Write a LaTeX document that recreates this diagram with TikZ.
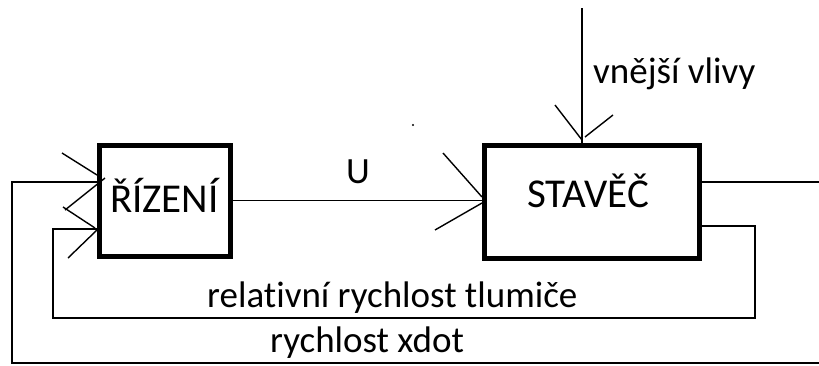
\documentclass[tikz,border=0pt]{standalone}
\usepackage{fontspec}
\setmainfont{Carlito}[Ligatures={NoCommon,NoContextual}]
\begin{document}
\begin{tikzpicture}[x=1pt,y=-1pt,
  block/.style={draw=black,line width=5pt,rectangle,inner sep=0pt},
  wire/.style={draw=black,line width=1.8pt},
  head/.style={draw=black,line width=1.4pt},
  lbl/.style={inner sep=0pt,anchor=base west,font=\fontsize{37}{40}\selectfont,text=black},
  blbl/.style={lbl,font=\fontsize{41}{44}\selectfont}]
\useasboundingbox (0,0) rectangle (819,365);
% blocks
\node[block,minimum width=131pt,minimum height=111pt] (riz) at (164.5,200.5) {};
\node[block,minimum width=215pt,minimum height=113pt] (stav) at (591.5,201.5) {};
% texts
\node[blbl] (tRiz) at (110,212) {ŘÍZENÍ};
\node[blbl] (tStav) at (527,207) {STAVĚČ};
\node[lbl] (tU) at (346,183) {U};
\node[lbl] (tVne) at (593,83) {vnější vlivy};
\node[lbl] (tRel) at (207,307) {relativní rychlost tlumiče};
\node[lbl] (tXd) at (270,352) {rychlost xdot};
% coordinates
\coordinate (top) at (582,8);
\coordinate (out1) at (819,182);
\coordinate (o2) at (755,226);
\coordinate (o2b) at (755,318);
\coordinate (f1) at (53,318);
\coordinate (f1b) at (53,229);
\coordinate (b1) at (819,363);
\coordinate (b2) at (12,363);
\coordinate (b3) at (12,182);
\coordinate (dot) at (413,125);
% connectors
\draw[wire] (riz.east) -- (riz.east -| stav.west);
\draw[wire] (top) -- (top |- stav.north);
\draw[wire] (stav.east |- out1) -- (out1);
\draw[wire] (stav.east |- o2) -- (o2) -- (o2b) -- (f1) -- (f1b) -- (riz.west |- f1b);
\draw[wire] (b1) -- (b2) -- (b3) -- (riz.west |- b3);
% open arrowheads
\draw[head] (62,153) -- (97,175);
\draw[head] (65,210) -- (105,178);
\draw[head] (63,207) -- (95,228);
\draw[head] (68,258) -- (97,230);
\draw[head] (443,153) -- (482,197);
\draw[head] (435,230) -- (482,203);
\draw[head] (555,105) -- (582,140);
\draw[head] (613,115) -- (585,137);
% stray dot
\fill[black] (dot) circle (1.2pt);
\end{tikzpicture}
\end{document}
